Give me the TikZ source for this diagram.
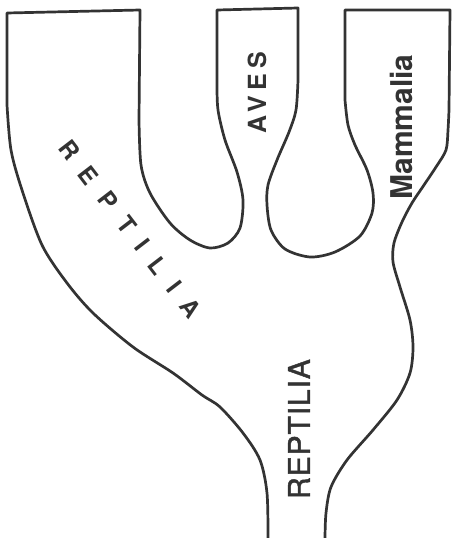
\documentclass[tikz,border=0pt]{standalone}
\usepackage{fontspec}
\setmainfont{TeX Gyre Heros}
\newfontfamily\heros{TeX Gyre Heros}
\newfontfamily\herosspaced[LetterSpace=64]{TeX Gyre Heros}
\newfontfamily\herosaves[LetterSpace=20]{TeX Gyre Heros}
\newfontfamily\herosrep[LetterSpace=3,FakeBold=1.5]{TeX Gyre Heros}
\definecolor{ink}{HTML}{333333}
\begin{document}
\begin{tikzpicture}[x=1pt,y=-1pt,
  outline/.style={draw=ink,line width=2.7pt,line join=round},
  lbl/.style={text=ink,inner sep=0pt}]
\useasboundingbox (0,0) rectangle (453,538);
\draw[outline]
 plot[smooth] coordinates {(268,538) (267,493) (260,460) (243,433) (220,407) (202,395) (173,373) (133,347) (93,313) (67,283) (42,245) (22,190) (11,150) (7,105)}
 -- (7,13) -- (140,10) -- (139,120)
 -- plot[smooth] coordinates {(139,120) (141,165) (150,193) (170,223) (190,240) (210,248) (228,243) (240,228) (243,200) (237,172) (225,140) (218,110) (217,85)}
 -- (217,10) -- (298,8) -- (298,80)
 -- plot[smooth] coordinates {(298,80) (296,110) (289,132) (277,160) (268,185) (267,205) (271,230) (285,249) (310,257) (335,252) (360,236) (372,213) (373,193) (367,170) (355,145) (348,125) (345,100)}
 -- (345,10) -- (450,10) -- (449,110)
 -- plot[smooth] coordinates {(449,110) (448,130) (446,150) (436,167) (424,185) (412,203) (402,222) (394,243) (393,262) (400,287) (410,320) (413,347) (410,373) (397,400) (373,430) (347,460) (331,487) (326,513) (325,538)};
\node[lbl, rotate=-52.5, font=\herosspaced\bfseries\fontsize{24}{28}\selectfont] (rep1) at (130,229) {REPTILIA};
\node[lbl, rotate=90, font=\herosaves\bfseries\fontsize{25}{30}\selectfont] (aves) at (257,93) {AVES};
\node[lbl, rotate=90, font=\heros\bfseries\fontsize{30}{36}\selectfont] (mam) at (401,127) {Mammalia};
\node[lbl, rotate=90, font=\herosrep\fontsize{30}{36}\selectfont] (rep2) at (299,429) {REPTILIA};
\end{tikzpicture}
\end{document}
